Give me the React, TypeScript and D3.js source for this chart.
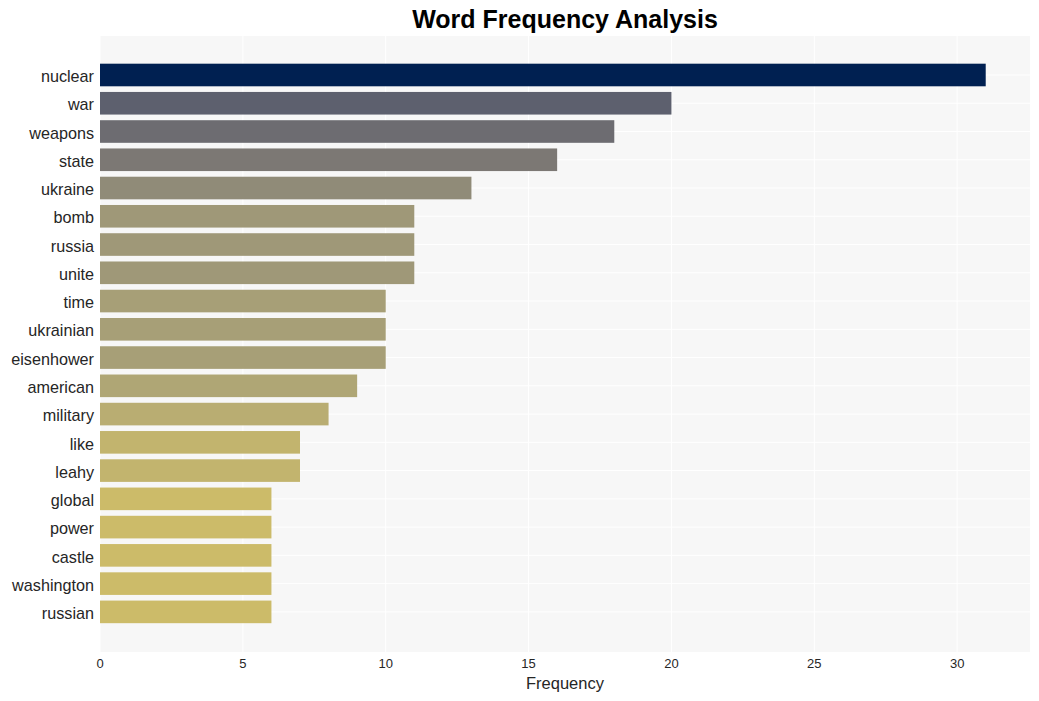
import React, { useRef, useEffect } from 'react';
import * as d3 from 'd3';

const words = [
  'nuclear', 'war', 'weapons', 'state', 'ukraine', 'bomb', 'russia', 'unite', 'time', 'ukrainian',
  'eisenhower', 'american', 'military', 'like', 'leahy', 'global', 'power', 'castle', 'washington', 'russian',
];
const counts = [31, 20, 18, 16, 13, 11, 11, 11, 10, 10, 10, 9, 8, 7, 7, 6, 6, 6, 6, 6];
const xTicks = [0, 5, 10, 15, 20, 25, 30];

const App = () => {
  const ref = useRef<SVGSVGElement | null>(null);

  useEffect(() => {
    if (!ref.current) return;
    const width = 1039;
    const height = 701;
    const left = 100, right = 1030, top = 36, bottom = 652;
    const font = 'Arial, "Liberation Sans", sans-serif';

    const svg = d3.select(ref.current);
    svg.selectAll('*').remove();
    svg.attr('width', width).attr('height', height);

    const maxVal = d3.max(counts) as number;
    const x = d3.scaleLinear().domain([0, maxVal * 1.05]).range([left, right]);
    // categories at 0..n-1, with seaborn-like padding
    const n = words.length;
    const y = d3.scaleLinear().domain([-1.38, n - 1 + 1.42]).range([top, bottom]);
    const color = d3.scaleSequential(d3.interpolateCividis).domain([maxVal, 0]);

    svg.append('rect')
      .attr('x', left).attr('y', top)
      .attr('width', right - left).attr('height', bottom - top)
      .attr('fill', '#f7f7f7');

    // grid
    svg.append('g').selectAll('line')
      .data(xTicks)
      .join('line')
      .attr('x1', d => x(d)).attr('x2', d => x(d))
      .attr('y1', top).attr('y2', bottom)
      .attr('stroke', '#ffffff').attr('stroke-width', 1);
    svg.append('g').selectAll('line')
      .data(words)
      .join('line')
      .attr('x1', left).attr('x2', right)
      .attr('y1', (_, i) => y(i)).attr('y2', (_, i) => y(i))
      .attr('stroke', '#ffffff').attr('stroke-width', 1);

    const bandH = y(0.8) - y(0);
    svg.append('g').selectAll('rect')
      .data(counts)
      .join('rect')
      .attr('x', x(0))
      .attr('y', (_, i) => y(i) - bandH / 2)
      .attr('width', d => x(d) - x(0))
      .attr('height', bandH)
      .attr('fill', d => color(d));

    svg.append('g').selectAll('text')
      .data(words)
      .join('text')
      .attr('x', left - 6)
      .attr('y', (_, i) => y(i) + 1.5)
      .attr('dy', '0.35em')
      .attr('text-anchor', 'end')
      .style('font-family', font)
      .style('font-size', '16.2px')
      .style('fill', '#262626')
      .text(d => d);

    svg.append('g').selectAll('text')
      .data(xTicks)
      .join('text')
      .attr('x', d => x(d))
      .attr('y', bottom + 16)
      .attr('text-anchor', 'middle')
      .style('font-family', font)
      .style('font-size', '13px')
      .style('fill', '#262626')
      .text(d => String(d));

    svg.append('text')
      .attr('x', (left + right) / 2)
      .attr('y', 689)
      .attr('text-anchor', 'middle')
      .style('font-family', font)
      .style('font-size', '16.5px')
      .style('fill', '#262626')
      .text('Frequency');

    svg.append('text')
      .attr('x', (left + right) / 2)
      .attr('y', 28)
      .attr('text-anchor', 'middle')
      .style('font-family', font)
      .style('font-size', '25px')
      .style('font-weight', 'bold')
      .style('fill', '#000')
      .text('Word Frequency Analysis');
  }, []);

  return (
    <svg ref={ref} style={{ position: 'absolute', left: 0, top: 0, background: '#fff' }} />
  );
};

export default App;
